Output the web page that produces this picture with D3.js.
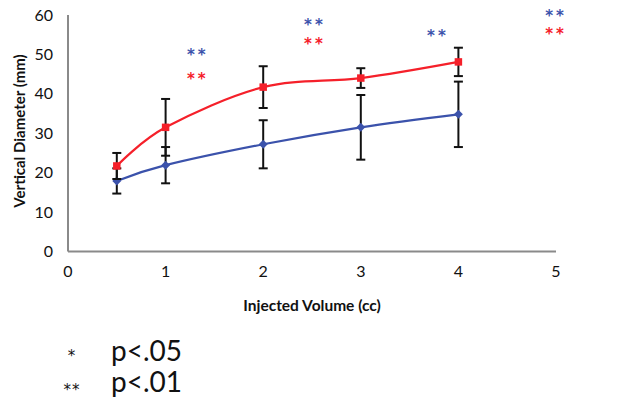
<!DOCTYPE html>
<html>
<head>
<meta charset="utf-8">
<script src="https://cdn.jsdelivr.net/npm/d3@7"></script>
<style>
  body { margin: 0; background: #fff; }
  svg { display: block; }
  text { font-family: Lato, "Open Sans", sans-serif; fill: #111; }
</style>
</head>
<body>
<svg id="chart" width="636" height="401"></svg>
<script>
// injected volume (cc)
var volumes = [0.5, 1, 2, 3, 4];

// red series (upper)
var redMeans = [21.7, 31.5, 41.7, 44.0, 48.1];
var redErr = [3.3, 7.2, 5.3, 2.5, 3.6];

// blue series (lower)
var blueMeans = [17.9, 21.9, 27.2, 31.5, 34.8];
var blueErr = [3.2, 4.6, 6.1, 8.2, 8.3];

var xTicks = [0, 1, 2, 3, 4, 5];
var yTicks = [0, 10, 20, 30, 40, 50, 60];

// significance marks: x, y in data units
var starX = [1.33, 2.53, 3.79, 5.0];
var blueStarY = [51.1, 58.7, 55.9, 61.0];
var redStarY = [45.0, 53.9, null, 56.4];

var legendSymbols = ['*', '**'];
var legendLabels = ['p<.05', 'p<.01'];

var RED = '#f5202a';
var BLUE = '#3b52ab';
var AXIS = '#8a8a8a';

var svg = d3.select('#chart');

var x = d3.scaleLinear().domain([0, 5]).range([68, 556]);
var y = d3.scaleLinear().domain([0, 60]).range([251.5, 15]);

// axes lines
svg.append('line')
    .attr('x1', x(0)).attr('x2', x(5))
    .attr('y1', y(0)).attr('y2', y(0))
    .attr('stroke', AXIS).attr('stroke-width', 2);
svg.append('line')
    .attr('x1', x(0)).attr('x2', x(0))
    .attr('y1', y(0)).attr('y2', y(60))
    .attr('stroke', AXIS).attr('stroke-width', 2);

svg.selectAll('.xtick')
    .data(xTicks)
    .enter().append('text')
    .attr('class', 'xtick')
    .attr('x', function(d) { return x(d); })
    .attr('y', 277)
    .attr('text-anchor', 'middle')
    .style('font-size', '16px')
    .text(function(d) { return d; });

svg.selectAll('.ytick')
    .data(yTicks)
    .enter().append('text')
    .attr('class', 'ytick')
    .attr('x', 53)
    .attr('y', function(d) { return y(d) + 5.5; })
    .attr('text-anchor', 'end')
    .style('font-size', '16px')
    .text(function(d) { return d; });

svg.append('text')
    .attr('x', 312)
    .attr('y', 311)
    .attr('text-anchor', 'middle')
    .style('font-size', '15.5px')
    .style('font-weight', 'bold')
    .text('Injected Volume (cc)');

svg.append('text')
    .attr('transform', 'translate(25,131) rotate(-90)')
    .attr('text-anchor', 'middle')
    .style('font-size', '15px')
    .style('font-weight', 'bold')
    .text('Vertical Diameter (mm)');

var line = d3.line()
    .x(function(d) { return x(d[0]); })
    .y(function(d) { return y(d[1]); })
    .curve(d3.curveCardinal.tension(0));

function drawSeries(means, errs, color, diamond) {
    var pts = volumes.map(function(v, i) { return [v, means[i], errs[i]]; });

    var bars = svg.append('g').selectAll('g')
        .data(pts)
        .enter().append('g')
        .attr('stroke', '#111')
        .attr('stroke-width', 2);
    bars.append('line')
        .attr('x1', function(d) { return x(d[0]); })
        .attr('x2', function(d) { return x(d[0]); })
        .attr('y1', function(d) { return y(d[1] - d[2]); })
        .attr('y2', function(d) { return y(d[1] + d[2]); });
    bars.append('line')
        .attr('x1', function(d) { return x(d[0]) - 4.5; })
        .attr('x2', function(d) { return x(d[0]) + 4.5; })
        .attr('y1', function(d) { return y(d[1] - d[2]); })
        .attr('y2', function(d) { return y(d[1] - d[2]); });
    bars.append('line')
        .attr('x1', function(d) { return x(d[0]) - 4.5; })
        .attr('x2', function(d) { return x(d[0]) + 4.5; })
        .attr('y1', function(d) { return y(d[1] + d[2]); })
        .attr('y2', function(d) { return y(d[1] + d[2]); });

    svg.append('path')
        .datum(pts)
        .attr('d', line)
        .attr('fill', 'none')
        .attr('stroke', color)
        .attr('stroke-width', 2.2);

    svg.append('g').selectAll('path')
        .data(pts)
        .enter().append('path')
        .attr('d', d3.symbol().type(d3.symbolSquare).size(diamond ? 40 : 56))
        .attr('transform', function(d) {
            return 'translate(' + x(d[0]) + ',' + y(d[1]) + ')' + (diamond ? ' rotate(45)' : '');
        })
        .attr('fill', color);
}

drawSeries(blueMeans, blueErr, BLUE, true);
drawSeries(redMeans, redErr, RED, false);

// significance asterisks
function drawStars(ys, color) {
    svg.append('g').selectAll('text')
        .data(starX.map(function(v, i) { return [v, ys[i]]; }).filter(function(d) { return d[1] !== null; }))
        .enter().append('text')
        .attr('x', function(d) { return x(d[0]); })
        .attr('y', function(d) { return y(d[1]) + 10; })
        .attr('text-anchor', 'middle')
        .style('font-family', '"DejaVu Sans", sans-serif')
        .style('font-size', '15px')
        .style('font-weight', 'bold')
        .style('letter-spacing', '3px')
        .style('fill', color)
        .text('**');
}
drawStars(blueStarY, BLUE);
drawStars(redStarY, RED);

// legend
var leg = svg.append('g');
leg.selectAll('.lsym')
    .data(legendSymbols)
    .enter().append('text')
    .attr('x', 72)
    .attr('y', function(d, i) { return 361 + i * 34; })
    .attr('text-anchor', 'middle')
    .style('font-family', '"DejaVu Sans", sans-serif')
    .style('font-size', '15px')
    .style('letter-spacing', '1px')
    .text(function(d) { return d; });
leg.selectAll('.llab')
    .data(legendLabels)
    .enter().append('text')
    .attr('x', 111)
    .attr('y', function(d, i) { return 361 + i * 31; })
    .style('font-size', '28px')
    .text(function(d) { return d; });
</script>
</body>
</html>
